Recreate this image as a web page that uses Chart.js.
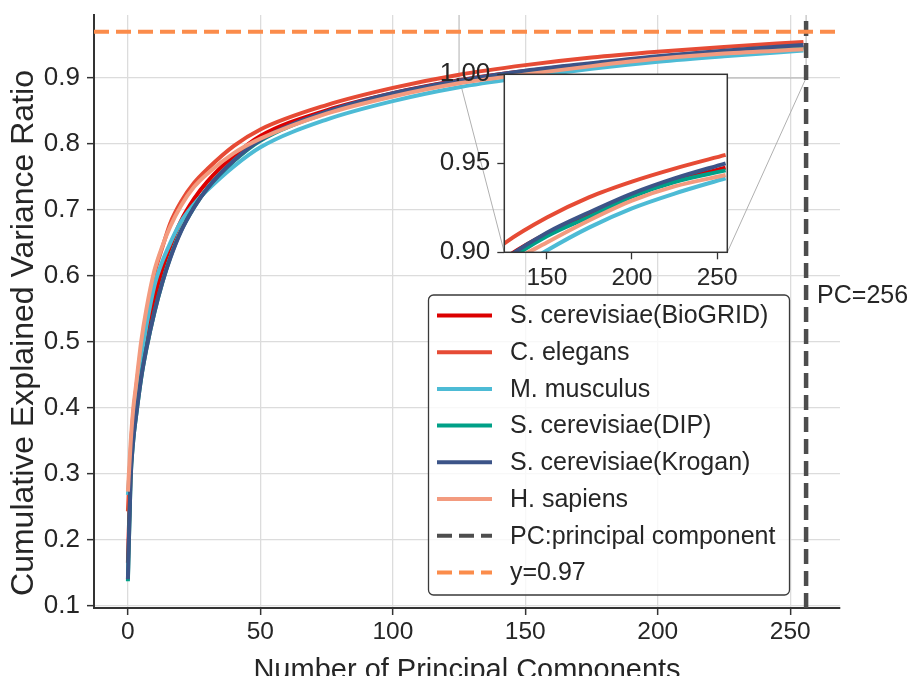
<!DOCTYPE html>
<html>
<head>
<meta charset="utf-8">
<script src="https://cdn.jsdelivr.net/npm/chart.js@4"></script>
<style>
  html, body { margin: 0; padding: 0; background: #fff; }
  #wrap { position: relative; width: 917px; height: 676px; overflow: hidden; }
  #wrap canvas { position: absolute; left: 0; top: 0; }
</style>
</head>
<body>
<div id="wrap">
  <canvas id="mainChart" width="917" height="710"></canvas>
  <canvas id="insetChart" width="917" height="710"></canvas>
</div>
<script>
// principal component index where each curve was read
const components = [0, 1, 2, 3, 5, 7, 10, 13, 16, 20, 25, 30, 40, 50, 75, 100, 125, 150, 175, 200, 225, 255];

// cumulative explained variance ratio per network
const bioGrid   = [0.165, 0.300, 0.365, 0.400, 0.460, 0.505, 0.565, 0.610, 0.645, 0.683, 0.717, 0.743, 0.782, 0.812, 0.851, 0.877, 0.8965, 0.9105, 0.9215, 0.932, 0.940, 0.9476];
const cElegans  = [0.243, 0.330, 0.390, 0.425, 0.490, 0.540, 0.603, 0.643, 0.680, 0.712, 0.741, 0.762, 0.797, 0.822, 0.859, 0.885, 0.905, 0.9195, 0.931, 0.9397, 0.947, 0.9547];
const mMusculus = [0.268, 0.325, 0.375, 0.410, 0.475, 0.525, 0.585, 0.622, 0.650, 0.682, 0.709, 0.730, 0.766, 0.795, 0.837, 0.865, 0.886, 0.901, 0.914, 0.9247, 0.933, 0.9416];
const dip       = [0.137, 0.290, 0.350, 0.385, 0.445, 0.490, 0.545, 0.590, 0.628, 0.668, 0.704, 0.733, 0.774, 0.805, 0.847, 0.875, 0.894, 0.909, 0.920, 0.9313, 0.9395, 0.946];
const krogan    = [0.140, 0.290, 0.350, 0.385, 0.445, 0.490, 0.545, 0.590, 0.627, 0.667, 0.704, 0.733, 0.775, 0.806, 0.849, 0.877, 0.896, 0.911, 0.9225, 0.933, 0.9415, 0.950];
const hSapiens  = [0.273, 0.345, 0.398, 0.432, 0.500, 0.550, 0.608, 0.645, 0.675, 0.706, 0.735, 0.755, 0.786, 0.808, 0.846, 0.872, 0.892, 0.9055, 0.918, 0.929, 0.937, 0.9434];

const seriesNames = ['S. cerevisiae(BioGRID)', 'C. elegans', 'M. musculus', 'S. cerevisiae(DIP)', 'S. cerevisiae(Krogan)', 'H. sapiens'];
const seriesColors = ['#dc0000', '#e64b35', '#4dbbd5', '#00a087', '#3c5488', '#f39b7f'];

// reference lines
const PC_LINE = 256;
const THRESHOLD = 0.97;

// axis ranges and ticks
const X_MIN = -12.8, X_MAX = 268.8;
const Y_MIN = 0.0965, Y_MAX = 0.9955;
const xTicks = [0, 50, 100, 150, 200, 250];
const yTicks = [0.1, 0.2, 0.3, 0.4, 0.5, 0.6, 0.7, 0.8, 0.9];

// zoomed inset
const INSET_X = [125, 256];
const INSET_Y = [0.90, 1.00];
const insetXTicks = [150, 200, 250];
const insetYTicks = [0.90, 0.95, 1.00];

const FONT = '"Liberation Sans", Arial, sans-serif';
Chart.defaults.font.family = FONT;
Chart.defaults.color = '#262626';

const TEXT = '#262626';
const SPINE = '#333333';

function curveDatasets() {
    const all = [bioGrid, cElegans, mMusculus, dip, krogan, hSapiens];
    return all.map((vals, i) => ({
        label: seriesNames[i],
        data: components.map((c, j) => ({ x: c, y: vals[j] })),
        borderColor: seriesColors[i],
        backgroundColor: seriesColors[i],
        borderWidth: 4,
        pointRadius: 0,
        cubicInterpolationMode: 'monotone',
        order: 20 - i
    }));
}

function noPadding(scale) {
    scale.paddingTop = 0;
    scale.paddingBottom = 0;
    scale.paddingLeft = 0;
    scale.paddingRight = 0;
}

// white face + full box for the inset
const insetFrame = {
    id: 'insetFrame',
    beforeDatasetsDraw(chart) {
        const { ctx, chartArea: a } = chart;
        ctx.save();
        ctx.fillStyle = '#fff';
        ctx.fillRect(a.left, a.top, a.right - a.left, a.bottom - a.top);
        ctx.restore();
    },
    afterDraw(chart) {
        const { ctx, chartArea: a } = chart;
        ctx.save();
        ctx.strokeStyle = SPINE;
        ctx.lineWidth = 1.5;
        ctx.strokeRect(a.left, a.top, a.right - a.left, a.bottom - a.top);
        ctx.restore();
    }
};

const insetChart = new Chart(document.getElementById('insetChart'), {
    type: 'line',
    data: { datasets: curveDatasets() },
    options: {
        responsive: false,
        animation: false,
        devicePixelRatio: 1,
        layout: { padding: { left: 420, top: 74.3, right: 189.7, bottom: 0 } },
        plugins: { legend: { display: false }, tooltip: { enabled: false } },
        scales: {
            x: {
                type: 'linear', min: INSET_X[0], max: INSET_X[1],
                afterBuildTicks: s => { s.ticks = insetXTicks.map(v => ({ value: v })); },
                afterFit: s => { s.height = 710 - 252.3; noPadding(s); },
                grid: { drawOnChartArea: false, tickLength: 7, tickColor: SPINE, tickWidth: 1.3 },
                border: { display: false },
                ticks: { padding: 4, font: { size: 24.5 }, color: TEXT, maxRotation: 0 }
            },
            y: {
                type: 'linear', min: INSET_Y[0], max: INSET_Y[1],
                afterBuildTicks: s => { s.ticks = insetYTicks.map(v => ({ value: v })); },
                afterFit: s => { s.width = 84.3; noPadding(s); },
                grid: { drawOnChartArea: false, tickLength: 7, tickColor: SPINE, tickWidth: 1.3 },
                border: { display: false },
                ticks: { padding: 7, font: { size: 26 }, color: TEXT, callback: v => v.toFixed(2) }
            }
        }
    },
    plugins: [insetFrame]
});

// zoom box + connectors, y title, legend and PC label on the main axes
const mainDecor = {
    id: 'mainDecor',
    beforeDatasetsDraw(chart) {
        const { ctx, chartArea: a, scales: { x, y } } = chart;
        const ia = insetChart.chartArea;
        const x0 = x.getPixelForValue(INSET_X[0]), x1 = x.getPixelForValue(INSET_X[1]);
        const y0 = y.getPixelForValue(INSET_Y[0]), y1 = y.getPixelForValue(INSET_Y[1]);
        ctx.save();
        ctx.strokeStyle = '#b0b0b0';
        ctx.lineWidth = 1;
        ctx.beginPath();
        ctx.moveTo(x0, y0); ctx.lineTo(ia.left, ia.bottom);
        ctx.moveTo(x1, y0); ctx.lineTo(ia.right, ia.bottom);
        ctx.stroke();
        ctx.beginPath();
        ctx.rect(a.left, a.top, a.right - a.left, a.bottom - a.top);
        ctx.clip();
        ctx.strokeRect(x0, y1, x1 - x0, y0 - y1);
        ctx.restore();
    },
    afterDraw(chart) {
        const { ctx, scales: { x, y } } = chart;

        // y axis title (sits a little below the axes centre in the original)
        ctx.save();
        ctx.translate(24.5, 333);
        ctx.rotate(-Math.PI / 2);
        ctx.font = '32px ' + FONT;
        ctx.fillStyle = TEXT;
        ctx.textAlign = 'center';
        ctx.textBaseline = 'middle';
        ctx.fillText('Cumulative Explained Variance Ratio', 0, 0);
        ctx.restore();

        // PC=256 label
        ctx.save();
        ctx.font = '25px ' + FONT;
        ctx.fillStyle = TEXT;
        ctx.textBaseline = 'alphabetic';
        ctx.fillText('PC=' + PC_LINE, x.getPixelForValue(PC_LINE) + 11, y.getPixelForValue(0.559));
        ctx.restore();

        // legend
        const box = { left: 428.5, top: 295, width: 361, height: 300, firstRow: 315.5, rowGap: 36.7, lineStart: 437, lineEnd: 492, textX: 510 };
        ctx.save();
        ctx.beginPath();
        ctx.roundRect(box.left, box.top, box.width, box.height, 5);
        ctx.fillStyle = 'rgba(255,255,255,0.8)';
        ctx.fill();
        ctx.strokeStyle = '#3a3a3a';
        ctx.lineWidth = 1.3;
        ctx.stroke();
        chart.data.datasets.forEach((ds, i) => {
            const ry = box.firstRow + i * box.rowGap;
            ctx.beginPath();
            ctx.setLineDash(ds.borderDash || []);
            ctx.strokeStyle = ds.borderColor;
            ctx.lineWidth = 4;
            ctx.moveTo(box.lineStart, ry);
            ctx.lineTo(box.lineEnd, ry);
            ctx.stroke();
            ctx.setLineDash([]);
            ctx.font = '25px ' + FONT;
            ctx.fillStyle = TEXT;
            ctx.textBaseline = 'middle';
            ctx.fillText(ds.label, box.textX, ry + 1);
        });
        ctx.restore();
    }
};

const mainDatasets = curveDatasets();
mainDatasets.push({
    label: 'PC:principal component',
    data: [{ x: PC_LINE, y: Y_MIN }, { x: PC_LINE, y: Y_MAX }],
    borderColor: '#4d4d4d',
    borderWidth: 4.5,
    borderDash: [15, 7],
    pointRadius: 0,
    order: 2
});
mainDatasets.push({
    label: 'y=' + THRESHOLD,
    data: [{ x: X_MIN, y: THRESHOLD }, { x: X_MAX, y: THRESHOLD }],
    borderColor: '#fb8c4b',
    borderWidth: 4,
    borderDash: [15, 7],
    pointRadius: 0,
    order: 1
});

new Chart(document.getElementById('mainChart'), {
    type: 'line',
    data: { datasets: mainDatasets },
    options: {
        responsive: false,
        animation: false,
        devicePixelRatio: 1,
        layout: { padding: { left: 0, top: 15, right: 77, bottom: 0 } },
        plugins: { legend: { display: false }, tooltip: { enabled: false } },
        scales: {
            x: {
                type: 'linear', min: X_MIN, max: X_MAX,
                afterBuildTicks: s => { s.ticks = xTicks.map(v => ({ value: v })); },
                afterFit: s => { s.height = 710 - 608; noPadding(s); },
                grid: { color: '#dcdcdc', lineWidth: 1.3, tickLength: 7, tickColor: SPINE, tickWidth: 1.5 },
                border: { display: true, color: SPINE, width: 2 },
                ticks: { padding: 3, font: { size: 24.5 }, color: TEXT, maxRotation: 0 },
                title: { display: true, text: 'Number of Principal Components', font: { size: 29 }, color: TEXT, padding: { top: 0, bottom: 22 } }
            },
            y: {
                type: 'linear', min: Y_MIN, max: Y_MAX,
                afterBuildTicks: s => { s.ticks = yTicks.map(v => ({ value: v })); },
                afterFit: s => { s.width = 94; noPadding(s); },
                grid: { color: '#dcdcdc', lineWidth: 1.3, tickLength: 7, tickColor: SPINE, tickWidth: 1.5 },
                border: { display: true, color: SPINE, width: 2 },
                ticks: { padding: 7, font: { size: 26 }, color: TEXT, callback: v => v.toFixed(1) }
            }
        }
    },
    plugins: [mainDecor]
});
</script>
</body>
</html>
